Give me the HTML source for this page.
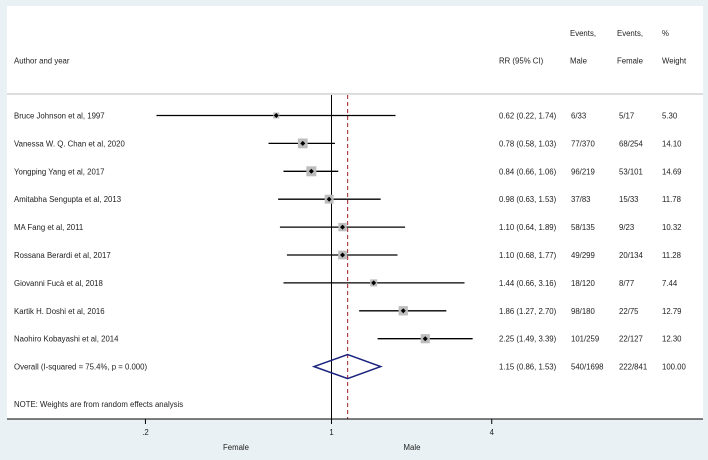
<!DOCTYPE html>
<html><head><meta charset="utf-8"><style>
body{margin:0;background:#e9f1f4;font-family:"Liberation Sans",sans-serif;}
svg text{font-family:"Liberation Sans",sans-serif;font-size:7.8px;fill:#222;}
</style></head><body>
<svg id="chart" width="708" height="455" xmlns="http://www.w3.org/2000/svg">
<rect x="0" y="0" width="708" height="455" fill="#e9f1f4"/>
<rect x="7" y="6" width="696" height="413" fill="#fff"/>
<g id="marks"></g>
</svg>
<script>
const studies=["Bruce Johnson et al, 1997","Vanessa W. Q. Chan et al, 2020","Yongping Yang et al, 2017","Amitabha Sengupta et al, 2013","MA Fang et al, 2011","Rossana Berardi et al, 2017","Giovanni Fucà et al, 2018","Kartik H. Doshi et al, 2016","Naohiro Kobayashi et al, 2014"];
const rr=[0.62,0.78,0.84,0.98,1.10,1.10,1.44,1.86,2.25];
const lo=[0.22,0.58,0.66,0.63,0.64,0.68,0.66,1.27,1.49];
const hi=[1.74,1.03,1.06,1.53,1.89,1.77,3.16,2.70,3.39];
const male=["6/33","77/370","96/219","37/83","58/135","49/299","18/120","98/180","101/259"];
const female=["5/17","68/254","53/101","15/33","9/23","20/134","8/77","22/75","22/127"];
const weight=[5.30,14.10,14.69,11.78,10.32,11.28,7.44,12.79,12.30];
const overall={rr:1.15,lo:0.86,hi:1.53,male:"540/1698",female:"222/841",weight:"100.00"};
const ticks=[0.2,1,4];
const tickLabels=[".2","1","4"];

const NS="http://www.w3.org/2000/svg";
const g=document.getElementById('marks');
const X=v=>331.5+115.6*Math.log(v);
const rowY=i=>115.5+27.9*i;
const cRR=499,cM=571,cF=619,cW=662;
function mk(t,a,txt){const e=document.createElementNS(NS,t);for(const k in a)e.setAttribute(k,a[k]);if(txt!==undefined)e.textContent=txt;g.appendChild(e);return e;}
function tx(x,y,s,name,anchor){const e=mk('text',{x:x,y:y,'text-anchor':anchor||'start'},s);

return e;}

tx(14,63.5,"Author and year","header-author");
tx(cRR,63.5,"RR (95% CI)","header-rr");
tx(cM-1,36,"Events,","header-events-male");tx(cM-1,63.5,"Male","header-male");
tx(cF-2,36,"Events,","header-events-female");tx(cF-2,63.5,"Female","header-female");
tx(cW,36,"%","header-pct");tx(cW,63.5,"Weight","header-weight");
let e=mk('line',{x1:7,y1:94,x2:703,y2:94,stroke:'#bbb','stroke-width':1});


e=mk('line',{x1:X(1),y1:95,x2:X(1),y2:419,stroke:'#000','stroke-width':1});


e=mk('line',{x1:X(overall.rr),y1:95,x2:X(overall.rr),y2:419,stroke:'#a02020','stroke-width':1,'stroke-dasharray':'4,3'});



studies.forEach((s,i)=>{
 const y=rowY(i);
 tx(14,y+3,s,'study-label');
 let l=mk('line',{x1:X(lo[i]),y1:y,x2:X(hi[i]),y2:y,stroke:'#000','stroke-width':1.3});
 
 
 const sd=Math.sqrt(weight[i])*2.6;
 let b=mk('rect',{x:X(rr[i])-sd/2,y:y-sd/2,width:sd,height:sd,fill:'#bdbdbd'});
 
 
 let p=mk('path',{d:`M${X(rr[i])-2.5},${y}L${X(rr[i])},${y-2.5}L${X(rr[i])+2.5},${y}L${X(rr[i])},${y+2.5}Z`,fill:'#000'});
 
 
 tx(cRR,y+3,rr[i].toFixed(2)+" ("+lo[i].toFixed(2)+", "+hi[i].toFixed(2)+")",'rr-value');
 tx(cM,y+3,male[i],'male-events');
 tx(cF,y+3,female[i],'female-events');
 tx(cW,y+3,weight[i].toFixed(2),'weight-value');
});
const oy=rowY(9);
tx(14,oy+3,"Overall  (I-squared = 75.4%, p = 0.000)","overall-label");
e=mk('path',{d:`M${X(overall.lo)},${oy}L${X(overall.rr)},${oy-12}L${X(overall.hi)},${oy}L${X(overall.rr)},${oy+12}Z`,fill:'none',stroke:'#1a237e','stroke-width':1.5});


tx(cRR,oy+3,overall.rr.toFixed(2)+" ("+overall.lo.toFixed(2)+", "+overall.hi.toFixed(2)+")",'overall-rr');
tx(cM,oy+3,overall.male,'overall-male');
tx(cF,oy+3,overall.female,'overall-female');
tx(cW,oy+3,overall.weight,'overall-weight');
tx(14,407,"NOTE: Weights are from random effects analysis","note");

e=mk('line',{x1:7,y1:419,x2:703,y2:419,stroke:'#000','stroke-width':1});


ticks.forEach((t,i)=>{
 let l=mk('line',{x1:X(t),y1:419,x2:X(t),y2:424,stroke:'#000','stroke-width':1});
 
 
 tx(X(t),435,tickLabels[i],'x-tick-label','middle');
});
tx(236,450,"Female","x-label-female","middle");
tx(412,450,"Male","x-label-male","middle");
</script>
</body></html>
